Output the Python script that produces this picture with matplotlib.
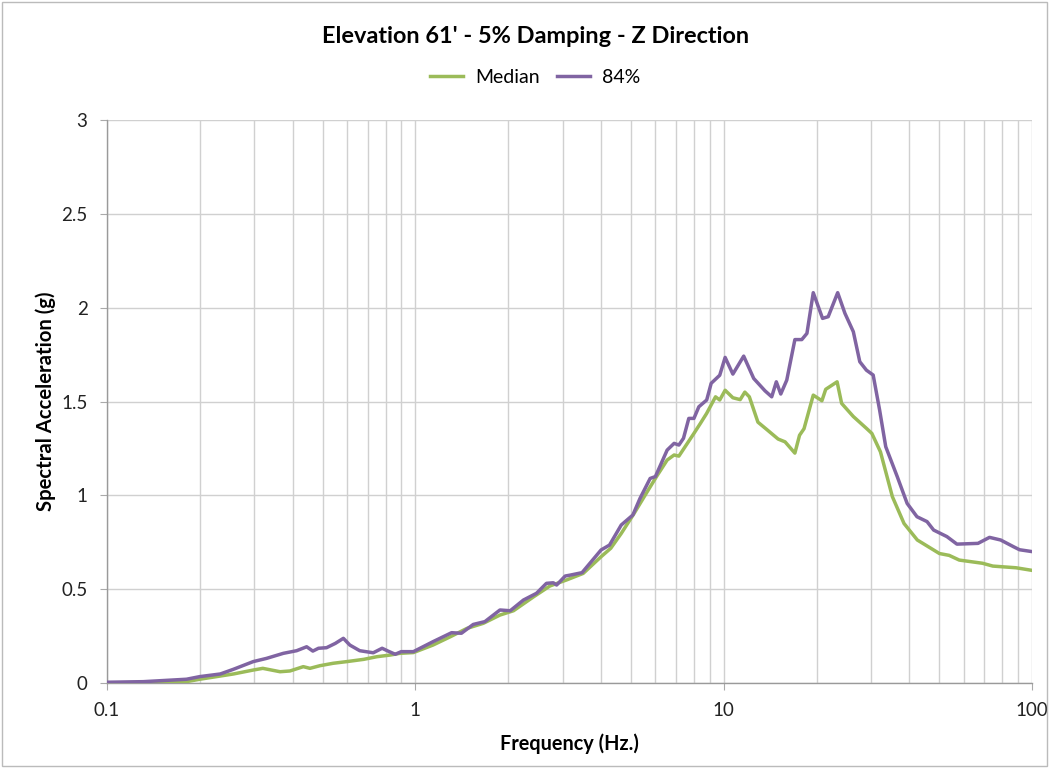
import matplotlib.pyplot as plt
from matplotlib.ticker import FixedLocator, FixedFormatter, NullFormatter
from matplotlib.patches import Rectangle

plt.rcParams['font.family'] = ['Lato', 'DejaVu Sans']

# spectral acceleration, median
freq_med = [0.1, 0.131, 0.181, 0.2, 0.257, 0.298, 0.32, 0.364, 0.392, 0.433,
            0.455, 0.49, 0.541, 0.6, 0.68, 0.75, 0.83, 0.89, 0.985, 1.14,
            1.3, 1.47, 1.66, 1.88, 2.08, 2.42, 2.73, 3.09, 3.5, 4.0,
            4.3, 4.65, 5.12, 5.6, 6.05, 6.55, 6.9, 7.15, 8.0, 8.4,
            8.8, 9.4, 9.7, 10.1, 10.7, 11.3, 11.7, 12.1, 12.9, 13.8,
            15.0, 15.8, 17.0, 17.6, 18.2, 19.5, 20.8, 21.4, 23.3, 24.1,
            26.3, 29.0, 30.2, 32.2, 35.2, 38.4, 42.4, 50.0, 53.8, 58.0,
            69.0, 74.5, 88.6, 100.0]
sa_med = [0.0, 0.003, 0.007, 0.02, 0.048, 0.069, 0.078, 0.06, 0.064, 0.087,
          0.078, 0.092, 0.105, 0.114, 0.126, 0.14, 0.149, 0.158, 0.162, 0.202,
          0.247, 0.291, 0.318, 0.362, 0.385, 0.46, 0.517, 0.549, 0.584, 0.673,
          0.718, 0.797, 0.904, 1.01, 1.10, 1.188, 1.215, 1.209, 1.33, 1.384,
          1.437, 1.525, 1.508, 1.56, 1.52, 1.51, 1.55, 1.525, 1.39, 1.35,
          1.30, 1.285, 1.225, 1.32, 1.355, 1.534, 1.504, 1.565, 1.605, 1.49,
          1.42, 1.357, 1.33, 1.232, 0.993, 0.85, 0.762, 0.69, 0.68, 0.655,
          0.638, 0.623, 0.614, 0.60]

# spectral acceleration, 84th percentile
freq_84 = [0.1, 0.131, 0.181, 0.2, 0.233, 0.257, 0.298, 0.329, 0.373, 0.412,
           0.444, 0.465, 0.485, 0.515, 0.55, 0.584, 0.613, 0.66, 0.73, 0.78,
           0.815, 0.86, 0.9, 0.985, 1.14, 1.31, 1.41, 1.54, 1.68, 1.88,
           2.03, 2.24, 2.47, 2.66, 2.8, 2.87, 3.06, 3.18, 3.47, 4.0,
           4.26, 4.65, 5.07, 5.35, 5.77, 6.0, 6.55, 6.9, 7.15, 7.4,
           7.7, 8.0, 8.3, 8.8, 9.1, 9.7, 10.1, 10.7, 11.6, 12.5,
           13.6, 14.3, 14.8, 15.3, 16.0, 17.0, 17.9, 18.6, 19.5, 20.9,
           21.8, 23.4, 24.7, 26.3, 27.6, 29.0, 30.5, 32.0, 33.5, 36.5,
           39.3, 42.3, 45.6, 47.9, 52.9, 57.0, 66.7, 72.7, 79.0, 87.0,
           91.0, 100.0]
sa_84 = [0.004, 0.007, 0.02, 0.034, 0.048, 0.073, 0.114, 0.131, 0.158, 0.172,
         0.193, 0.170, 0.185, 0.188, 0.211, 0.238, 0.202, 0.172, 0.161, 0.185,
         0.170, 0.153, 0.167, 0.167, 0.22, 0.268, 0.265, 0.312, 0.327, 0.389,
         0.385, 0.442, 0.478, 0.531, 0.534, 0.522, 0.57, 0.575, 0.588, 0.709,
         0.735, 0.842, 0.895, 0.984, 1.09, 1.10, 1.241, 1.277, 1.268, 1.304,
         1.41, 1.41, 1.472, 1.508, 1.597, 1.64, 1.735, 1.646, 1.742, 1.623,
         1.557, 1.525, 1.605, 1.54, 1.614, 1.83, 1.83, 1.863, 2.08, 1.943,
         1.952, 2.08, 1.97, 1.872, 1.712, 1.667, 1.641, 1.455, 1.259, 1.10,
         0.957, 0.886, 0.86, 0.815, 0.78, 0.74, 0.744, 0.776, 0.762, 0.726,
         0.71, 0.70]

y_ticks = [0, 0.5, 1, 1.5, 2, 2.5, 3]
y_labels = ['0', '0.5', '1', '1.5', '2', '2.5', '3']
x_ticks = [0.1, 1, 10, 100]
x_labels = ['0.1', '1', '10', '100']

fig = plt.figure(figsize=(10.49, 7.68), dpi=100)
ax = fig.add_axes([0.102, 0.1107, 0.882, 0.7330])

grid_c = '#D0D0D0'
ax.plot(freq_med, sa_med, color='#9BBB59', lw=2.5, label='Median', zorder=3)
ax.plot(freq_84, sa_84, color='#8064A2', lw=2.5, label='84%', zorder=3)

ax.set_xscale('log')
ax.set_xlim(0.1, 100)
ax.set_ylim(0, 3)
ax.xaxis.set_major_locator(FixedLocator(x_ticks))
ax.xaxis.set_major_formatter(FixedFormatter(x_labels))
ax.xaxis.set_minor_locator(FixedLocator([m * d for d in (0.1, 1, 10) for m in range(2, 10)]))
ax.xaxis.set_minor_formatter(NullFormatter())
ax.yaxis.set_major_locator(FixedLocator(y_ticks))
ax.yaxis.set_major_formatter(FixedFormatter(y_labels))

ax.grid(True, which='both', axis='x', color=grid_c, lw=1)
ax.grid(True, which='major', axis='y', color=grid_c, lw=1)
ax.set_axisbelow(True)

for s in ('top', 'right'):
    ax.spines[s].set_visible(False)
for s in ('left', 'bottom'):
    ax.spines[s].set_color('#9A9A9A')
    ax.spines[s].set_linewidth(1)

ax.tick_params(axis='both', which='major', direction='out', length=5,
               color='#AAAAAA', labelsize=13.5, labelcolor='#222222')
ax.tick_params(axis='x', which='minor', length=0)
ax.tick_params(axis='x', pad=9)
ax.tick_params(axis='y', pad=9)

ax.set_xlabel('Frequency (Hz.)', fontsize=14.3, fontweight='bold', labelpad=10)
ax.set_ylabel('Spectral Acceleration (g)', fontsize=14.6, fontweight='bold', labelpad=4)

fig.text(0.511, 0.953, "Elevation 61' - 5% Damping - Z Direction",
         ha='center', va='center', fontsize=16.9, fontweight='bold')
fig.legend(loc='center', bbox_to_anchor=(0.51, 0.899), ncol=2, frameon=False,
           fontsize=14, handlelength=1.7, columnspacing=0.9, handletextpad=0.6)

fig.patches.append(Rectangle((0.002, 0.002), 0.996, 0.996, transform=fig.transFigure,
                             fill=False, edgecolor='#BBBBBB', lw=1))

fig.savefig('out.png', dpi=100)
